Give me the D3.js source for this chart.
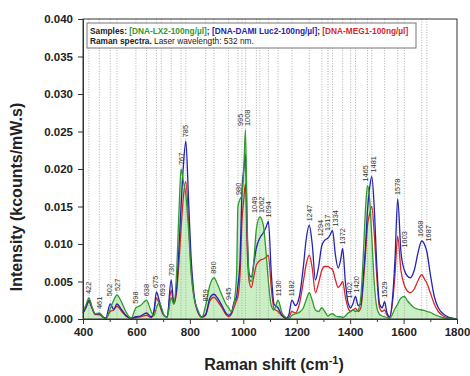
<!DOCTYPE html>
<html>
<head>
<meta charset="utf-8">
<script src="https://cdn.jsdelivr.net/npm/d3@7/dist/d3.min.js"></script>
<style>
  html, body { margin: 0; padding: 0; background: #fff; }
  svg { display: block; font-family: "Liberation Sans", Arial, sans-serif; }
</style>
</head>
<body>
<svg id="chart" width="470" height="376"></svg>
<script>
// Raman shift grid (cm^-1)
const shift = [400,410,422,435,445,461,475,485,502,515,527,545,560,580,598,615,638,655,665,675,685,693,705,715,730,740,750,760,767,775,785,795,805,815,830,845,859,875,890,905,920,935,945,955,965,975,980,988,995,1002,1008,1015,1022,1030,1040,1049,1062,1075,1085,1094,1105,1115,1130,1145,1160,1170,1182,1195,1210,1225,1235,1247,1258,1270,1282,1294,1305,1317,1325,1334,1345,1355,1365,1372,1382,1392,1402,1410,1420,1430,1440,1450,1458,1465,1473,1481,1490,1500,1510,1520,1529,1538,1548,1558,1568,1578,1590,1603,1615,1625,1640,1655,1668,1680,1687,1700,1715,1730,1745,1760,1780,1800];

// Intensity (kcounts/mW.s) per sample
const lx2 = [0.0010,0.0018,0.0028,0.0015,0.0007,0.0008,0.0003,0.0000,0.0014,0.0025,0.0032,0.0022,0.0010,0.0001,0.0015,0.0018,0.0025,0.0010,0.0004,0.0015,0.0022,0.0016,0.0004,0.0002,0.0028,0.0020,0.0060,0.0150,0.0200,0.0185,0.0165,0.0120,0.0060,0.0030,0.0012,0.0002,0.0018,0.0045,0.0055,0.0045,0.0032,0.0020,0.0015,0.0010,0.0020,0.0060,0.0150,0.0160,0.0165,0.0200,0.0252,0.0120,0.0055,0.0050,0.0080,0.0120,0.0136,0.0125,0.0090,0.0050,0.0018,0.0012,0.0025,0.0008,0.0002,0.0000,0.0005,0.0007,0.0009,0.0015,0.0025,0.0035,0.0025,0.0012,0.0010,0.0015,0.0010,0.0004,0.0006,0.0007,0.0004,0.0003,0.0003,0.0002,0.0004,0.0008,0.0010,0.0012,0.0010,0.0012,0.0030,0.0090,0.0150,0.0178,0.0160,0.0110,0.0050,0.0015,0.0006,0.0004,0.0003,0.0002,0.0001,0.0006,0.0014,0.0020,0.0028,0.0030,0.0024,0.0020,0.0015,0.0013,0.0012,0.0011,0.0010,0.0009,0.0006,0.0004,0.0002,0.0001,0.0000,0.0000];
const dami = [0.0008,0.0015,0.0025,0.0014,0.0007,0.0007,0.0003,0.0001,0.0020,0.0013,0.0020,0.0012,0.0005,0.0001,0.0003,0.0004,0.0008,0.0003,0.0010,0.0036,0.0025,0.0014,0.0004,0.0003,0.0052,0.0022,0.0040,0.0100,0.0150,0.0200,0.0237,0.0160,0.0080,0.0035,0.0010,0.0003,0.0006,0.0028,0.0033,0.0027,0.0018,0.0008,0.0005,0.0008,0.0022,0.0030,0.0045,0.0080,0.0170,0.0200,0.0220,0.0110,0.0060,0.0056,0.0075,0.0095,0.0108,0.0115,0.0122,0.0130,0.0060,0.0020,0.0015,0.0005,0.0001,0.0005,0.0025,0.0018,0.0030,0.0070,0.0105,0.0125,0.0100,0.0052,0.0070,0.0098,0.0105,0.0108,0.0112,0.0118,0.0085,0.0068,0.0080,0.0094,0.0050,0.0022,0.0015,0.0020,0.0030,0.0018,0.0020,0.0060,0.0100,0.0145,0.0175,0.0190,0.0150,0.0070,0.0020,0.0015,0.0023,0.0008,0.0003,0.0025,0.0080,0.0160,0.0090,0.0065,0.0057,0.0055,0.0065,0.0090,0.0104,0.0098,0.0090,0.0060,0.0030,0.0015,0.0008,0.0004,0.0001,0.0000];
const meg1 = [0.0008,0.0014,0.0023,0.0013,0.0006,0.0006,0.0002,0.0001,0.0010,0.0012,0.0017,0.0010,0.0004,0.0001,0.0002,0.0003,0.0005,0.0002,0.0008,0.0028,0.0020,0.0012,0.0004,0.0003,0.0038,0.0020,0.0035,0.0080,0.0120,0.0160,0.0183,0.0130,0.0065,0.0030,0.0009,0.0002,0.0005,0.0024,0.0029,0.0023,0.0015,0.0006,0.0003,0.0006,0.0015,0.0025,0.0030,0.0060,0.0130,0.0160,0.0180,0.0090,0.0050,0.0042,0.0058,0.0072,0.0078,0.0080,0.0082,0.0085,0.0040,0.0014,0.0010,0.0004,0.0001,0.0002,0.0010,0.0008,0.0020,0.0050,0.0072,0.0085,0.0068,0.0035,0.0048,0.0065,0.0070,0.0070,0.0068,0.0066,0.0052,0.0042,0.0046,0.0050,0.0030,0.0015,0.0010,0.0012,0.0014,0.0010,0.0015,0.0050,0.0090,0.0125,0.0140,0.0150,0.0115,0.0055,0.0015,0.0010,0.0012,0.0005,0.0002,0.0020,0.0060,0.0110,0.0065,0.0045,0.0037,0.0035,0.0040,0.0052,0.0059,0.0052,0.0048,0.0035,0.0020,0.0010,0.0005,0.0002,0.0001,0.0000];

// Assigned band positions (cm^-1)
const peaks = [422,461,502,527,598,638,675,693,730,767,785,859,890,945,980,995,1008,1049,1062,1094,1130,1182,1247,1294,1317,1334,1372,1402,1420,1465,1481,1529,1578,1603,1668,1687];

const xTicks = [400,600,800,1000,1200,1400,1600,1800];
const xMinorTicks = [500,700,900,1100,1300,1500,1700];
const yTicks = [0,0.005,0.010,0.015,0.020,0.025,0.030,0.035,0.040];

const svg = d3.select("#chart");
const plotL = 83, plotR = 457, plotT = 19, plotB = 319;

const x = d3.scaleLinear().domain([400, 1800]).range([plotL, plotR]);
const y = d3.scaleLinear().domain([0, 0.040]).range([plotB, plotT]);

const rows = (vals) => shift.map((s, i) => ({ s, v: vals[i] }));
const line = d3.line().x(d => x(d.s)).y(d => y(d.v)).curve(d3.curveMonotoneX);
const area = d3.area().x(d => x(d.s)).y0(y(0)).y1(d => y(d.v)).curve(d3.curveMonotoneX);

// green fill under the LX2 spectrum
svg.append("path")
  .datum(rows(lx2))
  .attr("d", area)
  .attr("fill", "#b9eab0")
  .attr("fill-opacity", 0.75);

// dotted band markers
svg.append("g").selectAll("line")
  .data(peaks).join("line")
  .attr("x1", d => x(d)).attr("x2", d => x(d))
  .attr("y1", plotT).attr("y2", plotB)
  .attr("stroke", "#9a9a9a")
  .attr("stroke-width", 0.8)
  .attr("stroke-dasharray", "1,1.6");

// spectra
const series = [
  { vals: meg1, color: "#d8262a" },
  { vals: dami, color: "#2424b0" },
  { vals: lx2,  color: "#2f9a2f" }
];
series.forEach(sr => {
  svg.append("path")
    .datum(rows(sr.vals))
    .attr("d", line)
    .attr("fill", "none")
    .attr("stroke", sr.color)
    .attr("stroke-width", 1.3)
    .attr("stroke-linejoin", "round");
});

// band labels above the highest spectrum near each band
const localMax = p => {
  let m = 0;
  shift.forEach((s, i) => {
    if (Math.abs(s - p) <= 13) m = Math.max(m, lx2[i], dami[i], meg1[i]);
  });
  return m;
};
const labels = peaks.map(p => ({ p, x: x(p), y: y(localMax(p)) - 4 }));
// spread crowded labels sideways so they stay readable
const minGap = 7.5;
let cluster = [labels[0]];
const spread = c => {
  if (c.length < 2) return;
  const mid = d3.mean(c, d => d.x);
  c.forEach((d, j) => { d.x = mid + (j - (c.length - 1) / 2) * minGap; });
};
for (let i = 1; i < labels.length; i++) {
  const a = labels[i - 1], b = labels[i];
  if (b.x - a.x < minGap && Math.abs(a.y - b.y) < 16) cluster.push(b);
  else { spread(cluster); cluster = [b]; }
}
spread(cluster);

svg.append("g").selectAll("text")
  .data(labels).join("text")
  .attr("transform", d => `translate(${d.x},${d.y}) rotate(-90)`)
  .attr("dy", "0.35em")
  .attr("font-size", 7.4)
  .attr("fill", "#333")
  .text(d => d.p);

// frame
svg.append("rect")
  .attr("x", plotL).attr("y", plotT)
  .attr("width", plotR - plotL).attr("height", plotB - plotT)
  .attr("fill", "none").attr("stroke", "#333").attr("stroke-width", 1);

// axes
const yAxis = svg.append("g")
  .attr("transform", `translate(${plotL},0)`)
  .call(d3.axisLeft(y).tickValues(yTicks).tickFormat(d3.format(".3f")).tickSize(5).tickSizeOuter(0));
const xAxis = svg.append("g")
  .attr("transform", `translate(0,${plotB})`)
  .call(d3.axisBottom(x).tickValues(xTicks).tickFormat(d3.format("d")).tickSize(5).tickSizeOuter(0));
svg.append("g")
  .attr("transform", `translate(0,${plotB})`)
  .call(d3.axisBottom(x).tickValues(xMinorTicks).tickFormat("").tickSize(3).tickSizeOuter(0))
  .call(g => g.select(".domain").remove())
  .selectAll("line").attr("stroke", "#333");

[yAxis, xAxis].forEach(a => {
  a.selectAll("text").attr("font-size", 11.5).attr("font-weight", "bold")
    .attr("font-family", "Liberation Sans, Arial, sans-serif").attr("fill", "#222");
  a.selectAll("line, path").attr("stroke", "#333");
});
yAxis.selectAll("text").attr("x", -10);
xAxis.selectAll("text").attr("y", 9);

// axis titles
svg.append("text")
  .attr("x", (plotL + plotR) / 2 + 4).attr("y", 370)
  .attr("text-anchor", "middle")
  .attr("font-size", 16).attr("font-weight", "bold").attr("fill", "#222")
  .call(t => {
    t.append("tspan").text("Raman shift (cm");
    t.append("tspan").attr("dy", -6).attr("font-size", 11).text("-1");
    t.append("tspan").attr("dy", 6).text(")");
  });
svg.append("text")
  .attr("transform", `translate(22,${(plotT + plotB) / 2 + 28}) rotate(-90)`)
  .attr("text-anchor", "middle")
  .attr("font-size", 16).attr("font-weight", "bold").attr("fill", "#222")
  .text("Intensity (kcounts/mW.s)");

// legend box
const lg = svg.append("g");
lg.append("rect")
  .attr("x", 87).attr("y", 23).attr("width", 329).attr("height", 25)
  .attr("fill", "#fff").attr("stroke", "#777").attr("stroke-width", 1);
const l1 = lg.append("text").attr("x", 90).attr("y", 33.5)
  .attr("font-size", 8.3).attr("font-weight", "bold");
l1.append("tspan").attr("fill", "#222").text("Samples: ");
l1.append("tspan").attr("fill", "#2f9a2f").text("[DNA-LX2-100ng/µl]");
l1.append("tspan").attr("fill", "#222").text("; ");
l1.append("tspan").attr("fill", "#2424b0").text("[DNA-DAMI Luc2-100ng/µl]");
l1.append("tspan").attr("fill", "#222").text("; ");
l1.append("tspan").attr("fill", "#d8262a").text("[DNA-MEG1-100ng/µl]");
const l2 = lg.append("text").attr("x", 90).attr("y", 44).attr("font-size", 8.3).attr("fill", "#222");
l2.append("tspan").attr("font-weight", "bold").text("Raman spectra.");
l2.append("tspan").text(" Laser wavelength: 532 nm.");
</script>
</body>
</html>
